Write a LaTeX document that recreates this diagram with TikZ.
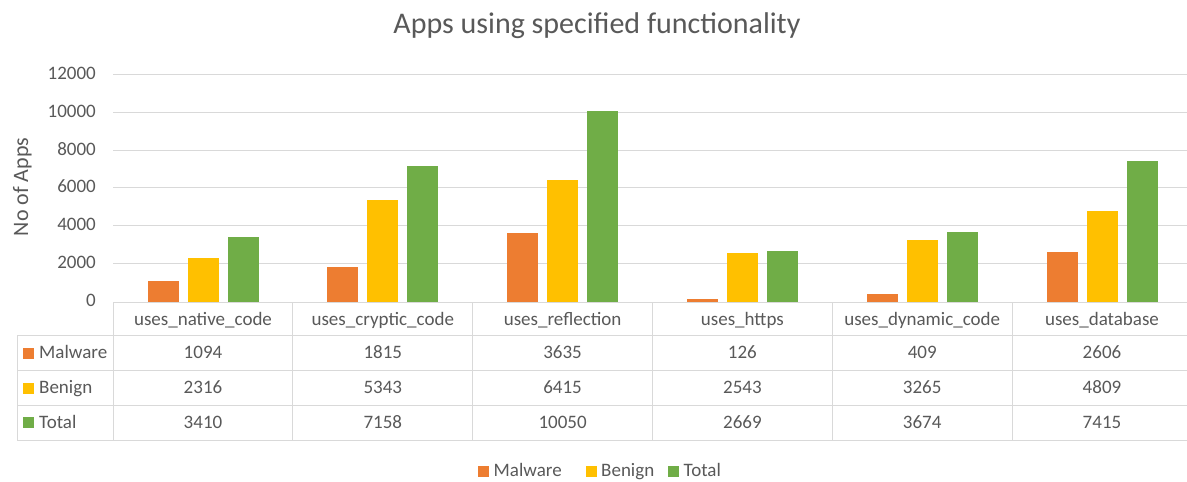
\documentclass[tikz,border=0pt]{standalone}
\usepackage{fontspec}
\setmainfont{Carlito}
\definecolor{malw}{HTML}{ED7D31}
\definecolor{beni}{HTML}{FFC000}
\definecolor{tot}{HTML}{70AD47}
\definecolor{txtgray}{HTML}{595959}
\definecolor{gridgray}{HTML}{D9D9D9}
\begin{document}
\begin{tikzpicture}[x=1pt,y=-1pt,
  txt/.style={text=txtgray, inner sep=0pt, font=\fontsize{19}{22}\selectfont},
  gridline/.style={draw=gridgray, line width=1pt},
  bar/.style={draw=white, line width=0.6pt},
  swatch/.style={minimum size=11pt, inner sep=0pt}]
\useasboundingbox (0,0) rectangle (1187,482);
\fill[white] (0,0) rectangle (1187,482);

% title
\node[txt, anchor=base, font=\fontsize{30}{34}\selectfont] (title) at (597,33) {Apps using specified functionality};

% value axis: gridlines and tick labels
\foreach \v in {2000,4000,...,12000}{
  \pgfmathsetmacro\yy{301.5-\v*0.018917}
  \draw[gridline] (113,\yy) -- (1187,\yy);
}
\foreach \v in {0,2000,4000,...,12000}{
  \pgfmathsetmacro\yy{301.5-\v*0.018917}
  \node[txt, anchor=base east] (tick\v) at (96,\yy+5) {\v};
}
\node[txt, rotate=90, anchor=base, font=\fontsize{22}{26}\selectfont] (ylabel) at (28,187) {No of Apps};

% bars and category columns of the data table
\foreach \cat/\m/\b/\t [count=\i] in {
  uses\_native\_code/1094/2316/3410,
  uses\_cryptic\_code/1815/5343/7158,
  uses\_reflection/3635/6415/10050,
  uses\_https/126/2543/2669,
  uses\_dynamic\_code/409/3265/3674,
  uses\_database/2606/4809/7415}{
  \pgfmathsetmacro\c{113+(\i-1)*179.8}
  \fill[malw] (\c+34.5,301.5) rectangle (\c+65.5,301.5-\m*0.018917);
  \fill[beni] (\c+74.5,301.5) rectangle (\c+105.5,301.5-\b*0.018917);
  \fill[tot]  (\c+114.5,301.5) rectangle (\c+145.5,301.5-\t*0.018917);
  \node[txt, anchor=base] (cat\i) at (\c+90,325) {\cat};
  \node[txt, anchor=base] (mal\i) at (\c+90,358.5) {\m};
  \node[txt, anchor=base] (ben\i) at (\c+90,393.5) {\b};
  \node[txt, anchor=base] (tot\i) at (\c+90,428.5) {\t};
}

% table rules
\draw[gridline] (113,302) -- (1187,302);
\foreach \yy in {335.7,370.7,405.7,440}{
  \draw[gridline] (17,\yy) -- (1187,\yy);
}
\draw[gridline] (17,335.7) -- (17,440);
\foreach \i in {0,...,5}{
  \draw[gridline] (113+\i*179.8,302) -- (113+\i*179.8,440);
}

% series keys inside the table
\foreach \name/\col/\yy [count=\k] in {Malware/malw/353.2, Benign/beni/388.2, Total/tot/422.9}{
  \node[swatch, fill=\col] (rowkey\k) at (28.5,\yy) {};
  \node[txt, anchor=base west] (rowname\k) at (39,\yy+5.3) {\name};
}

% legend
\foreach \name/\col/\xx [count=\k] in {Malware/malw/483.5, Benign/beni/591, Total/tot/673.5}{
  \node[swatch, fill=\col] (legkey\k) at (\xx,471.7) {};
  \node[txt, anchor=base west] (legname\k) at (\xx+10,476.7) {\name};
}
\end{tikzpicture}
\end{document}
